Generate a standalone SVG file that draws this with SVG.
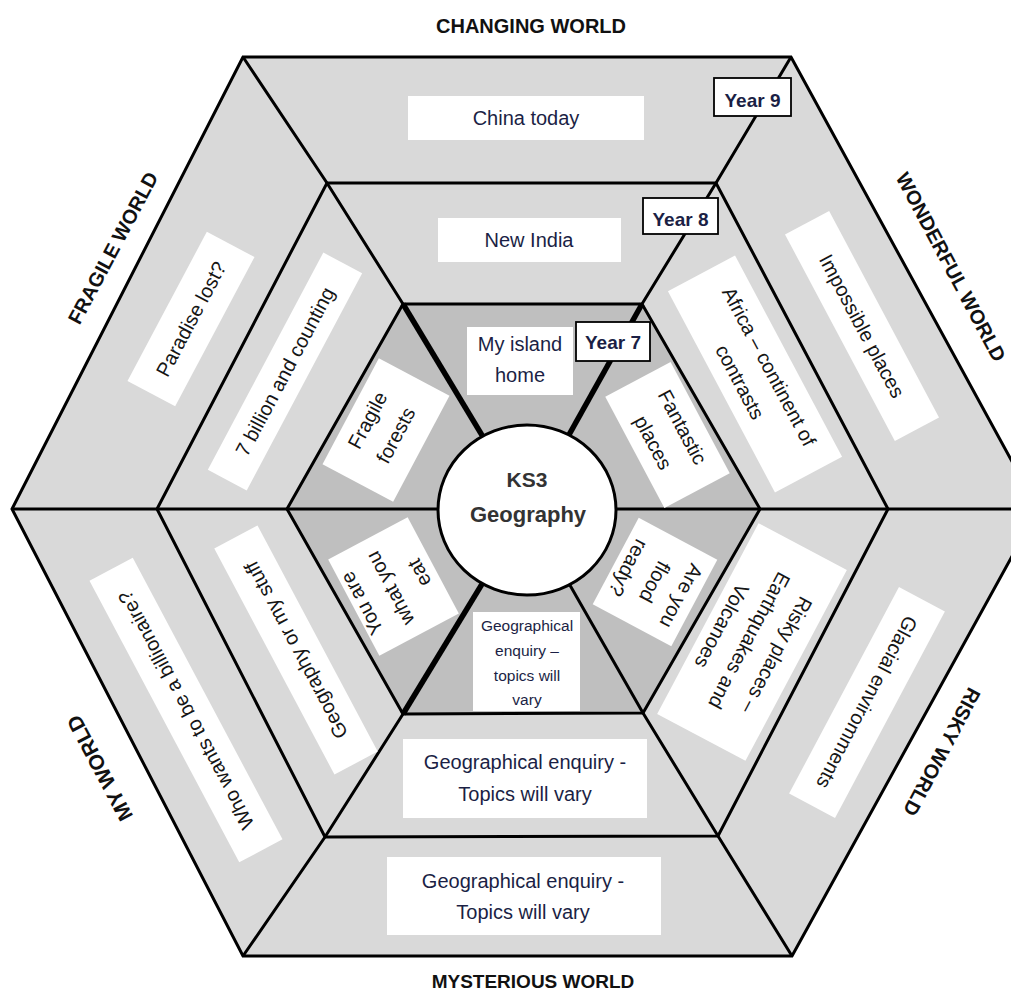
<svg xmlns="http://www.w3.org/2000/svg" width="1011" height="994" viewBox="0 0 1011 994">
<style>
.t{font-family:"Liberation Sans",Arial,sans-serif;font-size:20px;fill:#151515;text-anchor:middle}
.h{fill:#1b1f45}
.s{font-size:15.5px}
.w{font-family:"Liberation Sans",Arial,sans-serif;font-size:20px;font-weight:bold;fill:#111;text-anchor:middle}
.yr{font-family:"Liberation Sans",Arial,sans-serif;font-size:19px;font-weight:bold;fill:#1b1f45;text-anchor:middle}
.box{fill:#ffffff}
.ybox{fill:#ffffff;stroke:#000;stroke-width:1.8}
.ln{fill:none;stroke:#000;stroke-width:3;stroke-linejoin:miter}
.thk{fill:none;stroke:#000;stroke-width:5.5}
</style>
<rect width="1011" height="994" fill="#ffffff"/>
<g id="rings">
<polygon points="243,57 791,57 1038,509 792,956 243,956 12,509" fill="#d9d9d9"/>
<polygon points="403,304 642,304 760,509 643,713 403,714 287,509" fill="#bfbfbf"/>
</g>
<g id="connectors">
<polygon class="ln" points="243,57 791,57 1038,509 792,956 243,956 12,509"/>
<polygon class="ln" points="327,183 716,183 888,509 718,836 325,837 157,509"/>
<polygon class="ln" points="403,304 642,304 760,509 643,713 403,714 287,509"/>
<polyline class="ln" points="243,57 327,183 403,304"/>
<polyline class="ln" points="791,57 716,183 642,304"/>
<polyline class="ln" points="243,956 325,837 403,714"/>
<polyline class="ln" points="792,956 718,836 643,713 527,510"/>
<line class="ln" x1="12" y1="509" x2="527" y2="509"/>
<line class="ln" x1="527" y1="509" x2="1038" y2="509"/>
<line class="thk" x1="403" y1="304" x2="527" y2="510"/>
<line class="thk" x1="642" y1="304" x2="527" y2="510"/>
<line class="thk" x1="403" y1="714" x2="527" y2="510"/>
</g>
<g id="centre">
<ellipse cx="527" cy="510" rx="89" ry="85" fill="#ffffff" stroke="#000" stroke-width="3"/>
<text class="w" x="527" y="487" style="font-size:21px;fill:#333">KS3</text>
<text class="w" x="528" y="522" style="font-size:22px;fill:#333">Geography</text>
</g>
<g id="labels">
<text class="w" x="531" y="33">CHANGING WORLD</text>
<text class="w" x="533" y="988" style="font-size:19px">MYSTERIOUS WORLD</text>
<text class="w" transform="translate(113,248) rotate(-62)" y="7">FRAGILE WORLD</text>
<text class="w" transform="translate(951,267) rotate(62)" y="7">WONDERFUL WORLD</text>
<text class="w" transform="translate(100,768) rotate(-118)" y="7" style="font-size:21px">MY WORLD</text>
<text class="w" transform="translate(942,752) rotate(118)" y="7">RISKY WORLD</text>
</g>
<g id="changing-world">
<g id="china-today"><rect class="box" x="408" y="96" width="236" height="44"/><text class="t h" x="526" y="125">China today</text></g>
<g id="new-india"><rect class="box" x="438" y="218" width="183" height="44"/><text class="t h" x="529" y="247">New India</text></g>
<g id="my-island-home"><rect class="box" x="467" y="327" width="106" height="68"/><text class="t h" x="520" y="351">My island</text><text class="t h" x="520" y="382">home</text></g>
</g>
<g id="fragile-world">
<g id="paradise-lost" transform="translate(191,319) rotate(-62)"><rect class="box" x="-84.5" y="-27" width="169" height="54"/><text class="t" x="0" y="7">Paradise lost?</text></g>
<g id="seven-billion" transform="translate(285,371.5) rotate(-62)"><rect class="box" x="-123" y="-22" width="246" height="44"/><text class="t" x="0" y="7">7 billion and counting</text></g>
<g id="fragile-forests" transform="translate(386,430) rotate(-62)"><rect class="box" x="-60" y="-40" width="120" height="80"/><text class="t" x="0" y="-14">Fragile</text><text class="t" x="0" y="18">forests</text></g>
</g>
<g id="wonderful-world">
<g id="impossible-places" transform="translate(862,326) rotate(62)"><rect class="box" x="-117" y="-25" width="234" height="50"/><text class="t" x="0" y="7">Impossible places</text></g>
<g id="africa" transform="translate(755,374) rotate(62)"><rect class="box" x="-114" y="-38" width="228" height="76"/><text class="t" x="0" y="-9">Africa – continent of</text><text class="t" x="0" y="24">contrasts</text></g>
<g id="fantastic-places" transform="translate(667.5,435) rotate(62)"><rect class="box" x="-63" y="-37" width="126" height="74"/><text class="t" x="0" y="-10">Fantastic</text><text class="t" x="0" y="23">places</text></g>
</g>
<g id="my-world">
<g id="billionaire" transform="translate(186,710) rotate(-118)"><rect class="box" x="-159.5" y="-24.5" width="319" height="49"/><text class="t" x="0" y="7">Who wants to be a billionaire?</text></g>
<g id="my-stuff" transform="translate(296,650) rotate(-118)"><rect class="box" x="-128" y="-24.5" width="256" height="49"/><text class="t" x="0" y="7">Geography or my stuff</text></g>
<g id="you-are-what-you-eat" transform="translate(393.5,586.5) rotate(-118)"><rect class="box" x="-54.5" y="-45" width="109" height="90"/><text class="t" x="0" y="-29">You are</text><text class="t" x="0" y="3">what you</text><text class="t" x="0" y="36">eat</text></g>
</g>
<g id="risky-world">
<g id="glacial" transform="translate(867,702.5) rotate(118)"><rect class="box" x="-117" y="-26" width="234" height="52"/><text class="t" x="0" y="7">Glacial enviromments</text></g>
<g id="risky-places" transform="translate(752,642) rotate(118)"><rect class="box" x="-108" y="-50" width="216" height="100"/><text class="t" x="0" y="-21">Risky places –</text><text class="t" x="0" y="10">Earthquakes and</text><text class="t" x="0" y="41">Volcanoes</text></g>
<g id="flood-ready" transform="translate(655,582) rotate(118)"><rect class="box" x="-49" y="-44.5" width="98" height="89"/><text class="t" x="0" y="-23">Are you</text><text class="t" x="0" y="7">flood</text><text class="t" x="0" y="37">ready?</text></g>
</g>
<g id="mysterious-world">
<g id="enquiry-y7"><rect class="box" x="473" y="612" width="107" height="99"/><text class="t h s" x="527" y="631">Geographical</text><text class="t h s" x="527" y="656">enquiry –</text><text class="t h s" x="527" y="681">topics will</text><text class="t h s" x="527" y="705">vary</text></g>
<g id="enquiry-y8"><rect class="box" x="403" y="739" width="244" height="79"/><text class="t h" x="525" y="769">Geographical enquiry -</text><text class="t h" x="525" y="801">Topics will vary</text></g>
<g id="enquiry-y9"><rect class="box" x="387" y="857" width="274" height="78"/><text class="t h" x="523" y="888">Geographical enquiry -</text><text class="t h" x="523" y="919">Topics will vary</text></g>
</g>
<g id="year-labels">
<g id="year9"><rect class="ybox" x="714" y="78" width="77" height="38"/><text class="yr" x="752.5" y="107">Year 9</text></g>
<g id="year8"><rect class="ybox" x="643" y="198" width="75" height="36"/><text class="yr" x="680.5" y="226">Year 8</text></g>
<g id="year7"><rect class="ybox" x="576" y="322" width="74" height="39"/><text class="yr" x="613" y="349">Year 7</text></g>
</g>
</svg>
